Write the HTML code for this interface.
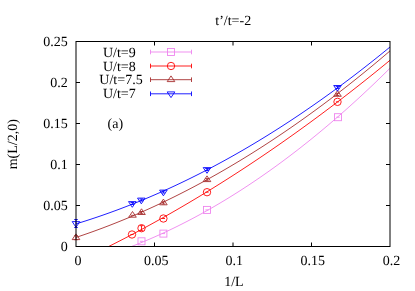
<!DOCTYPE html>
<html><head><meta charset="utf-8"><title>plot</title>
<style>
html,body{margin:0;padding:0;background:#fff;}
svg{display:block;}
text{font-family:"Liberation Serif",serif;font-size:14px;fill:#000;text-rendering:geometricPrecision;}
.t{filter:grayscale(1);}
</style></head><body>
<svg width="415" height="291" viewBox="0 0 415 291">
<rect x="0" y="0" width="415" height="291" fill="#fff"/>
<defs><clipPath id="c"><rect x="76" y="41.5" width="314" height="205"/></clipPath></defs>

<g clip-path="url(#c)" fill="none" stroke-width="0.88">
<path d="M70.0 265.85 L72.0 265.36 L74.0 264.86 L76.0 264.35 L78.0 263.84 L80.0 263.31 L82.0 262.77 L84.0 262.22 L86.0 261.67 L88.0 261.10 L90.0 260.53 L92.0 259.95 L94.0 259.35 L96.0 258.75 L98.0 258.14 L100.0 257.52 L102.0 256.89 L104.0 256.25 L106.0 255.60 L108.0 254.94 L110.0 254.27 L112.0 253.59 L114.0 252.90 L116.0 252.21 L118.0 251.50 L120.0 250.79 L122.0 250.06 L124.0 249.33 L126.0 248.58 L128.0 247.83 L130.0 247.07 L132.0 246.30 L134.0 245.52 L136.0 244.73 L138.0 243.93 L140.0 243.12 L142.0 242.30 L144.0 241.47 L146.0 240.64 L148.0 239.79 L150.0 238.94 L152.0 238.07 L154.0 237.20 L156.0 236.31 L158.0 235.42 L160.0 234.52 L162.0 233.60 L164.0 232.68 L166.0 231.75 L168.0 230.81 L170.0 229.86 L172.0 228.90 L174.0 227.94 L176.0 226.96 L178.0 225.97 L180.0 224.98 L182.0 223.97 L184.0 222.95 L186.0 221.93 L188.0 220.90 L190.0 219.85 L192.0 218.80 L194.0 217.74 L196.0 216.67 L198.0 215.59 L200.0 214.50 L202.0 213.40 L204.0 212.29 L206.0 211.17 L208.0 210.04 L210.0 208.91 L212.0 207.76 L214.0 206.60 L216.0 205.44 L218.0 204.26 L220.0 203.08 L222.0 201.89 L224.0 200.69 L226.0 199.47 L228.0 198.25 L230.0 197.02 L232.0 195.78 L234.0 194.53 L236.0 193.27 L238.0 192.01 L240.0 190.73 L242.0 189.44 L244.0 188.15 L246.0 186.84 L248.0 185.52 L250.0 184.20 L252.0 182.87 L254.0 181.52 L256.0 180.17 L258.0 178.81 L260.0 177.44 L262.0 176.06 L264.0 174.67 L266.0 173.27 L268.0 171.86 L270.0 170.44 L272.0 169.01 L274.0 167.58 L276.0 166.13 L278.0 164.68 L280.0 163.21 L282.0 161.74 L284.0 160.25 L286.0 158.76 L288.0 157.26 L290.0 155.75 L292.0 154.23 L294.0 152.69 L296.0 151.15 L298.0 149.61 L300.0 148.05 L302.0 146.48 L304.0 144.90 L306.0 143.31 L308.0 141.72 L310.0 140.11 L312.0 138.50 L314.0 136.87 L316.0 135.24 L318.0 133.60 L320.0 131.95 L322.0 130.28 L324.0 128.61 L326.0 126.93 L328.0 125.24 L330.0 123.54 L332.0 121.83 L334.0 120.12 L336.0 118.39 L338.0 116.65 L340.0 114.91 L342.0 113.15 L344.0 111.39 L346.0 109.61 L348.0 107.83 L350.0 106.04 L352.0 104.23 L354.0 102.42 L356.0 100.60 L358.0 98.77 L360.0 96.93 L362.0 95.08 L364.0 93.22 L366.0 91.35 L368.0 89.48 L370.0 87.59 L372.0 85.69 L374.0 83.79 L376.0 81.87 L378.0 79.95 L380.0 78.02 L382.0 76.07 L384.0 74.12 L386.0 72.16 L388.0 70.19 L390.0 68.21 L392.0 66.22 L394.0 64.22" stroke="#ee82ee"/>
<path d="M70.0 264.97 L72.0 264.05 L74.0 263.14 L76.0 262.21 L78.0 261.29 L80.0 260.36 L82.0 259.42 L84.0 258.48 L86.0 257.53 L88.0 256.58 L90.0 255.63 L92.0 254.67 L94.0 253.71 L96.0 252.74 L98.0 251.76 L100.0 250.79 L102.0 249.80 L104.0 248.82 L106.0 247.83 L108.0 246.83 L110.0 245.83 L112.0 244.82 L114.0 243.81 L116.0 242.80 L118.0 241.78 L120.0 240.76 L122.0 239.73 L124.0 238.69 L126.0 237.66 L128.0 236.62 L130.0 235.57 L132.0 234.52 L134.0 233.46 L136.0 232.40 L138.0 231.34 L140.0 230.27 L142.0 229.19 L144.0 228.11 L146.0 227.03 L148.0 225.94 L150.0 224.85 L152.0 223.75 L154.0 222.65 L156.0 221.54 L158.0 220.43 L160.0 219.31 L162.0 218.19 L164.0 217.07 L166.0 215.94 L168.0 214.80 L170.0 213.67 L172.0 212.52 L174.0 211.37 L176.0 210.22 L178.0 209.06 L180.0 207.90 L182.0 206.74 L184.0 205.56 L186.0 204.39 L188.0 203.21 L190.0 202.02 L192.0 200.83 L194.0 199.64 L196.0 198.44 L198.0 197.24 L200.0 196.03 L202.0 194.82 L204.0 193.60 L206.0 192.38 L208.0 191.15 L210.0 189.92 L212.0 188.68 L214.0 187.44 L216.0 186.20 L218.0 184.95 L220.0 183.70 L222.0 182.44 L224.0 181.17 L226.0 179.91 L228.0 178.63 L230.0 177.36 L232.0 176.08 L234.0 174.79 L236.0 173.50 L238.0 172.20 L240.0 170.90 L242.0 169.60 L244.0 168.29 L246.0 166.97 L248.0 165.66 L250.0 164.33 L252.0 163.00 L254.0 161.67 L256.0 160.34 L258.0 158.99 L260.0 157.65 L262.0 156.30 L264.0 154.94 L266.0 153.58 L268.0 152.22 L270.0 150.85 L272.0 149.47 L274.0 148.10 L276.0 146.71 L278.0 145.33 L280.0 143.93 L282.0 142.54 L284.0 141.13 L286.0 139.73 L288.0 138.32 L290.0 136.90 L292.0 135.48 L294.0 134.06 L296.0 132.63 L298.0 131.20 L300.0 129.76 L302.0 128.31 L304.0 126.87 L306.0 125.41 L308.0 123.96 L310.0 122.50 L312.0 121.03 L314.0 119.56 L316.0 118.08 L318.0 116.61 L320.0 115.12 L322.0 113.63 L324.0 112.14 L326.0 110.64 L328.0 109.14 L330.0 107.63 L332.0 106.12 L334.0 104.60 L336.0 103.08 L338.0 101.55 L340.0 100.02 L342.0 98.49 L344.0 96.95 L346.0 95.40 L348.0 93.86 L350.0 92.30 L352.0 90.74 L354.0 89.18 L356.0 87.61 L358.0 86.04 L360.0 84.47 L362.0 82.89 L364.0 81.30 L366.0 79.71 L368.0 78.11 L370.0 76.51 L372.0 74.91 L374.0 73.30 L376.0 71.69 L378.0 70.07 L380.0 68.45 L382.0 66.82 L384.0 65.19 L386.0 63.55 L388.0 61.91 L390.0 60.27 L392.0 58.62 L394.0 56.96" stroke="#ff0000"/>
<path d="M70.0 239.38 L72.0 238.73 L74.0 238.08 L76.0 237.42 L78.0 236.76 L80.0 236.08 L82.0 235.40 L84.0 234.72 L86.0 234.03 L88.0 233.33 L90.0 232.62 L92.0 231.91 L94.0 231.19 L96.0 230.46 L98.0 229.73 L100.0 228.99 L102.0 228.25 L104.0 227.49 L106.0 226.73 L108.0 225.97 L110.0 225.19 L112.0 224.42 L114.0 223.63 L116.0 222.84 L118.0 222.04 L120.0 221.23 L122.0 220.42 L124.0 219.60 L126.0 218.77 L128.0 217.94 L130.0 217.10 L132.0 216.25 L134.0 215.40 L136.0 214.54 L138.0 213.67 L140.0 212.80 L142.0 211.92 L144.0 211.03 L146.0 210.14 L148.0 209.24 L150.0 208.33 L152.0 207.42 L154.0 206.50 L156.0 205.57 L158.0 204.64 L160.0 203.70 L162.0 202.75 L164.0 201.80 L166.0 200.84 L168.0 199.87 L170.0 198.90 L172.0 197.92 L174.0 196.93 L176.0 195.93 L178.0 194.93 L180.0 193.93 L182.0 192.91 L184.0 191.89 L186.0 190.87 L188.0 189.83 L190.0 188.79 L192.0 187.74 L194.0 186.69 L196.0 185.63 L198.0 184.56 L200.0 183.49 L202.0 182.41 L204.0 181.32 L206.0 180.22 L208.0 179.12 L210.0 178.02 L212.0 176.90 L214.0 175.78 L216.0 174.65 L218.0 173.52 L220.0 172.38 L222.0 171.23 L224.0 170.07 L226.0 168.91 L228.0 167.74 L230.0 166.57 L232.0 165.39 L234.0 164.20 L236.0 163.01 L238.0 161.80 L240.0 160.60 L242.0 159.38 L244.0 158.16 L246.0 156.93 L248.0 155.70 L250.0 154.46 L252.0 153.21 L254.0 151.95 L256.0 150.69 L258.0 149.42 L260.0 148.15 L262.0 146.86 L264.0 145.58 L266.0 144.28 L268.0 142.98 L270.0 141.67 L272.0 140.36 L274.0 139.03 L276.0 137.70 L278.0 136.37 L280.0 135.03 L282.0 133.68 L284.0 132.32 L286.0 130.96 L288.0 129.59 L290.0 128.22 L292.0 126.83 L294.0 125.45 L296.0 124.05 L298.0 122.65 L300.0 121.24 L302.0 119.82 L304.0 118.40 L306.0 116.97 L308.0 115.53 L310.0 114.09 L312.0 112.64 L314.0 111.19 L316.0 109.72 L318.0 108.26 L320.0 106.78 L322.0 105.30 L324.0 103.81 L326.0 102.31 L328.0 100.81 L330.0 99.30 L332.0 97.78 L334.0 96.26 L336.0 94.73 L338.0 93.19 L340.0 91.65 L342.0 90.10 L344.0 88.54 L346.0 86.98 L348.0 85.41 L350.0 83.84 L352.0 82.25 L354.0 80.66 L356.0 79.07 L358.0 77.46 L360.0 75.85 L362.0 74.24 L364.0 72.61 L366.0 70.98 L368.0 69.35 L370.0 67.70 L372.0 66.05 L374.0 64.40 L376.0 62.73 L378.0 61.06 L380.0 59.38 L382.0 57.70 L384.0 56.01 L386.0 54.31 L388.0 52.61 L390.0 50.90 L392.0 49.18 L394.0 47.46" stroke="#a52a2a"/>
<path d="M70.0 225.69 L72.0 225.10 L74.0 224.50 L76.0 223.89 L78.0 223.28 L80.0 222.66 L82.0 222.04 L84.0 221.41 L86.0 220.77 L88.0 220.12 L90.0 219.47 L92.0 218.81 L94.0 218.15 L96.0 217.48 L98.0 216.80 L100.0 216.12 L102.0 215.43 L104.0 214.73 L106.0 214.02 L108.0 213.31 L110.0 212.60 L112.0 211.87 L114.0 211.14 L116.0 210.41 L118.0 209.66 L120.0 208.91 L122.0 208.15 L124.0 207.39 L126.0 206.62 L128.0 205.84 L130.0 205.06 L132.0 204.27 L134.0 203.47 L136.0 202.67 L138.0 201.86 L140.0 201.05 L142.0 200.22 L144.0 199.39 L146.0 198.56 L148.0 197.71 L150.0 196.86 L152.0 196.01 L154.0 195.15 L156.0 194.28 L158.0 193.40 L160.0 192.52 L162.0 191.63 L164.0 190.73 L166.0 189.83 L168.0 188.92 L170.0 188.01 L172.0 187.09 L174.0 186.16 L176.0 185.22 L178.0 184.28 L180.0 183.33 L182.0 182.38 L184.0 181.42 L186.0 180.45 L188.0 179.47 L190.0 178.49 L192.0 177.50 L194.0 176.51 L196.0 175.51 L198.0 174.50 L200.0 173.49 L202.0 172.46 L204.0 171.44 L206.0 170.40 L208.0 169.36 L210.0 168.31 L212.0 167.26 L214.0 166.20 L216.0 165.13 L218.0 164.06 L220.0 162.98 L222.0 161.89 L224.0 160.80 L226.0 159.70 L228.0 158.59 L230.0 157.48 L232.0 156.36 L234.0 155.23 L236.0 154.10 L238.0 152.96 L240.0 151.81 L242.0 150.66 L244.0 149.50 L246.0 148.33 L248.0 147.16 L250.0 145.98 L252.0 144.79 L254.0 143.60 L256.0 142.40 L258.0 141.20 L260.0 139.98 L262.0 138.76 L264.0 137.54 L266.0 136.31 L268.0 135.07 L270.0 133.82 L272.0 132.57 L274.0 131.31 L276.0 130.05 L278.0 128.77 L280.0 127.50 L282.0 126.21 L284.0 124.92 L286.0 123.62 L288.0 122.32 L290.0 121.00 L292.0 119.69 L294.0 118.36 L296.0 117.03 L298.0 115.69 L300.0 114.35 L302.0 113.00 L304.0 111.64 L306.0 110.27 L308.0 108.90 L310.0 107.53 L312.0 106.14 L314.0 104.75 L316.0 103.35 L318.0 101.95 L320.0 100.54 L322.0 99.12 L324.0 97.70 L326.0 96.27 L328.0 94.83 L330.0 93.39 L332.0 91.94 L334.0 90.48 L336.0 89.02 L338.0 87.55 L340.0 86.07 L342.0 84.59 L344.0 83.10 L346.0 81.60 L348.0 80.10 L350.0 78.59 L352.0 77.07 L354.0 75.55 L356.0 74.02 L358.0 72.48 L360.0 70.94 L362.0 69.39 L364.0 67.84 L366.0 66.27 L368.0 64.71 L370.0 63.13 L372.0 61.55 L374.0 59.96 L376.0 58.36 L378.0 56.76 L380.0 55.15 L382.0 53.54 L384.0 51.92 L386.0 50.29 L388.0 48.65 L390.0 47.01 L392.0 45.36 L394.0 43.71" stroke="#0000ff"/>
</g>
<path d="M139.90 241.30 H143.10" fill="none" stroke="#ee82ee" stroke-width="0.88"/><rect x="138.00" y="237.80" width="7" height="7" fill="none" stroke="#ee82ee" stroke-width="0.88"/>
<path d="M161.80 233.60 H165.00" fill="none" stroke="#ee82ee" stroke-width="0.88"/><rect x="159.90" y="230.10" width="7" height="7" fill="none" stroke="#ee82ee" stroke-width="0.88"/>
<path d="M205.40 209.90 H208.60" fill="none" stroke="#ee82ee" stroke-width="0.88"/><rect x="203.50" y="206.40" width="7" height="7" fill="none" stroke="#ee82ee" stroke-width="0.88"/>
<path d="M336.40 117.20 H339.60" fill="none" stroke="#ee82ee" stroke-width="0.88"/><rect x="334.50" y="113.70" width="7" height="7" fill="none" stroke="#ee82ee" stroke-width="0.88"/>
<path d="M130.40 234.50 H133.60" fill="none" stroke="#ff0000" stroke-width="0.88"/><circle cx="132.00" cy="234.50" r="3.7" fill="none" stroke="#ff0000" stroke-width="0.88"/>
<path d="M141.50 225.70 V230.70 M139.70 225.70 H143.30 M139.70 230.70 H143.30" fill="none" stroke="#ff0000" stroke-width="0.88"/><circle cx="141.50" cy="228.20" r="3.7" fill="none" stroke="#ff0000" stroke-width="0.88"/>
<path d="M161.80 218.50 H165.00" fill="none" stroke="#ff0000" stroke-width="0.88"/><circle cx="163.40" cy="218.50" r="3.7" fill="none" stroke="#ff0000" stroke-width="0.88"/>
<path d="M205.40 192.20 H208.60" fill="none" stroke="#ff0000" stroke-width="0.88"/><circle cx="207.00" cy="192.20" r="3.7" fill="none" stroke="#ff0000" stroke-width="0.88"/>
<path d="M335.90 101.85 H339.10" fill="none" stroke="#ff0000" stroke-width="0.88"/><circle cx="337.50" cy="101.85" r="3.7" fill="none" stroke="#ff0000" stroke-width="0.88"/>
<path d="M76.00 235.70 V239.70 M74.20 235.70 H77.80 M74.20 239.70 H77.80" fill="none" stroke="#a52a2a" stroke-width="0.88"/><path d="M76.00 233.90 L79.80 239.60 L72.20 239.60 Z" fill="none" stroke="#a52a2a" stroke-width="0.88"/>
<path d="M130.90 215.30 H134.10" fill="none" stroke="#a52a2a" stroke-width="0.88"/><path d="M132.50 211.50 L136.30 217.20 L128.70 217.20 Z" fill="none" stroke="#a52a2a" stroke-width="0.88"/>
<path d="M141.50 211.50 V213.70 M139.70 211.50 H143.30 M139.70 213.70 H143.30" fill="none" stroke="#a52a2a" stroke-width="0.88"/><path d="M141.50 208.80 L145.30 214.50 L137.70 214.50 Z" fill="none" stroke="#a52a2a" stroke-width="0.88"/>
<path d="M163.40 201.80 V204.00 M161.60 201.80 H165.20 M161.60 204.00 H165.20" fill="none" stroke="#a52a2a" stroke-width="0.88"/><path d="M163.40 199.10 L167.20 204.80 L159.60 204.80 Z" fill="none" stroke="#a52a2a" stroke-width="0.88"/>
<path d="M207.00 178.60 V180.80 M205.20 178.60 H208.80 M205.20 180.80 H208.80" fill="none" stroke="#a52a2a" stroke-width="0.88"/><path d="M207.00 175.90 L210.80 181.60 L203.20 181.60 Z" fill="none" stroke="#a52a2a" stroke-width="0.88"/>
<path d="M337.50 93.30 V95.50 M335.70 93.30 H339.30 M335.70 95.50 H339.30" fill="none" stroke="#a52a2a" stroke-width="0.88"/><path d="M337.50 90.60 L341.30 96.30 L333.70 96.30 Z" fill="none" stroke="#a52a2a" stroke-width="0.88"/>
<path d="M76.00 219.50 V227.50 M74.20 219.50 H77.80 M74.20 227.50 H77.80" fill="none" stroke="#0000ff" stroke-width="0.88"/><path d="M76.00 227.30 L79.80 221.60 L72.20 221.60 Z" fill="none" stroke="#0000ff" stroke-width="0.88"/>
<path d="M132.30 202.50 V204.50 M130.50 202.50 H134.10 M130.50 204.50 H134.10" fill="none" stroke="#0000ff" stroke-width="0.88"/><path d="M132.30 207.30 L136.10 201.60 L128.50 201.60 Z" fill="none" stroke="#0000ff" stroke-width="0.88"/>
<path d="M141.30 199.00 V201.00 M139.50 199.00 H143.10 M139.50 201.00 H143.10" fill="none" stroke="#0000ff" stroke-width="0.88"/><path d="M141.30 203.80 L145.10 198.10 L137.50 198.10 Z" fill="none" stroke="#0000ff" stroke-width="0.88"/>
<path d="M163.40 191.00 V193.00 M161.60 191.00 H165.20 M161.60 193.00 H165.20" fill="none" stroke="#0000ff" stroke-width="0.88"/><path d="M163.40 195.80 L167.20 190.10 L159.60 190.10 Z" fill="none" stroke="#0000ff" stroke-width="0.88"/>
<path d="M207.00 168.50 V170.50 M205.20 168.50 H208.80 M205.20 170.50 H208.80" fill="none" stroke="#0000ff" stroke-width="0.88"/><path d="M207.00 173.30 L210.80 167.60 L203.20 167.60 Z" fill="none" stroke="#0000ff" stroke-width="0.88"/>
<path d="M337.50 86.40 V88.40 M335.70 86.40 H339.30 M335.70 88.40 H339.30" fill="none" stroke="#0000ff" stroke-width="0.88"/><path d="M337.50 91.20 L341.30 85.50 L333.70 85.50 Z" fill="none" stroke="#0000ff" stroke-width="0.88"/>
<g stroke="#000" stroke-width="1" fill="none">
<rect x="76" y="41.5" width="314" height="205"/>
<path d="M154.50 246.5 V242.5 M154.50 41.5 V45.5"/>
<path d="M233.00 246.5 V242.5 M233.00 41.5 V45.5"/>
<path d="M311.50 246.5 V242.5 M311.50 41.5 V45.5"/>
<path d="M76 205.50 H80 M390 205.50 H386"/>
<path d="M76 164.50 H80 M390 164.50 H386"/>
<path d="M76 123.50 H80 M390 123.50 H386"/>
<path d="M76 82.50 H80 M390 82.50 H386"/>
</g>
<g class="t">
<text x="77.90" y="265" text-anchor="middle">0</text>
<text x="156.15" y="265" text-anchor="middle">0.05</text>
<text x="234.20" y="265" text-anchor="middle">0.1</text>
<text x="312.70" y="265" text-anchor="middle">0.15</text>
<text x="391.50" y="265" text-anchor="middle">0.2</text>
<text x="67.7" y="251.10" text-anchor="end">0</text>
<text x="67.7" y="210.10" text-anchor="end">0.05</text>
<text x="67.7" y="169.10" text-anchor="end">0.1</text>
<text x="67.7" y="128.10" text-anchor="end">0.15</text>
<text x="67.7" y="87.10" text-anchor="end">0.2</text>
<text x="67.7" y="46.10" text-anchor="end">0.25</text>
<text x="233.2" y="25.3" text-anchor="middle">t’/t=-2</text>
<text x="233.9" y="285.6" text-anchor="middle">1/L</text>
<text transform="translate(17.3,144.2) rotate(-90)" text-anchor="middle">m(L/2,0)</text>
<text x="107.5" y="128.2">(a)</text>
<text x="119.3" y="56.50" text-anchor="middle">U/t=9</text>
<text x="119.3" y="70.50" text-anchor="middle">U/t=8</text>
<text x="121" y="84.20" text-anchor="middle">U/t=7.5</text>
<text x="119.3" y="98.30" text-anchor="middle">U/t=7</text>
</g>
<path d="M150.5 52 H191.5 M150.5 49.7 V54.3 M191.5 49.7 V54.3" stroke="#ee82ee" stroke-width="0.88" fill="none"/>
<rect x="167.50" y="48.50" width="7" height="7" fill="none" stroke="#ee82ee" stroke-width="0.88"/>
<path d="M150.5 66 H191.5 M150.5 63.7 V68.3 M191.5 63.7 V68.3" stroke="#ff0000" stroke-width="0.88" fill="none"/>
<circle cx="171.00" cy="66.00" r="3.7" fill="none" stroke="#ff0000" stroke-width="0.88"/>
<path d="M150.5 79.7 H191.5 M150.5 77.4 V82.0 M191.5 77.4 V82.0" stroke="#a52a2a" stroke-width="0.88" fill="none"/>
<path d="M171.00 75.90 L174.80 81.60 L167.20 81.60 Z" fill="none" stroke="#a52a2a" stroke-width="0.88"/>
<path d="M150.5 93.8 H191.5 M150.5 91.5 V96.1 M191.5 91.5 V96.1" stroke="#0000ff" stroke-width="0.88" fill="none"/>
<path d="M171.00 97.60 L174.80 91.90 L167.20 91.90 Z" fill="none" stroke="#0000ff" stroke-width="0.88"/>
</svg></body></html>
